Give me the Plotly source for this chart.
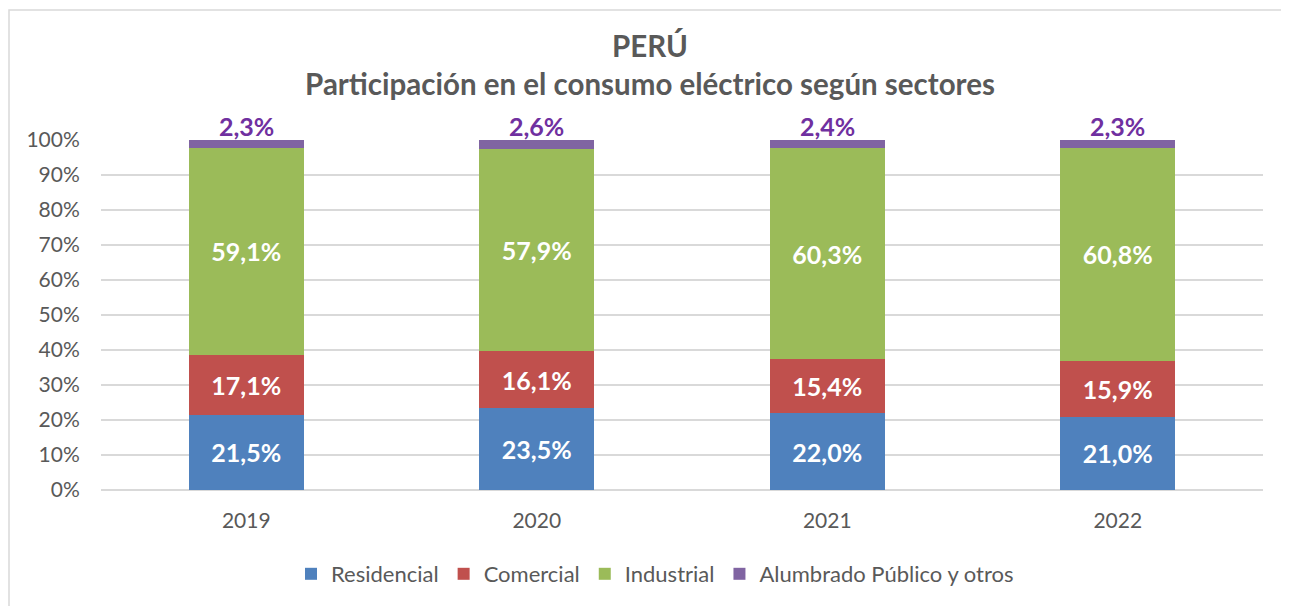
import plotly.graph_objects as go

years = ["2019", "2020", "2021", "2022"]
residencial = [21.5, 23.5, 22.0, 21.0]
comercial = [17.1, 16.1, 15.4, 15.9]
industrial = [59.1, 57.9, 60.3, 60.8]
alumbrado = [2.3, 2.6, 2.4, 2.3]

series = [
    ("Residencial", residencial, "#4F81BD"),
    ("Comercial", comercial, "#C0504D"),
    ("Industrial", industrial, "#9BBB59"),
    ("Alumbrado Público y otros", alumbrado, "#8064A2"),
]

def fmt(v):
    return f"{v:.1f}".replace(".", ",") + "%"

FONT = "Lato, Open Sans, sans-serif"
fig = go.Figure()
for name, vals, col in series:
    top = name.startswith("Alumbrado")
    fig.add_trace(go.Bar(
        x=years, y=vals, name=name, marker=dict(color=col, line=dict(width=0)),
        text=None if top else [fmt(v) for v in vals],
        textposition="inside",
        insidetextanchor="middle",
        textangle=0,
        constraintext="none",
        cliponaxis=False,
        textfont=dict(family=FONT, size=25, color="white", weight="bold"),
        hoverinfo="skip",
    ))

# purple labels above each stack (x given as category index)
totals = [r + c + i + a for r, c, i, a in zip(residencial, comercial, industrial, alumbrado)]
annotations = [
    dict(x=idx, y=min(t, 100), xref="x", yref="y", text=fmt(a), showarrow=False,
         yanchor="bottom", yshift=-3,
         font=dict(family=FONT, size=25, color="#7030A0", weight="bold"))
    for idx, (t, a) in enumerate(zip(totals, alumbrado))
]

# page has an 8px body margin; compensate
OFF = 8
W, H = 1289 - OFF, 606 - OFF
ml, mr, mt, mb = 101 - OFF, 26, 140 - OFF, 116
pw, ph = W - ml - mr, H - mt - mb

fig.update_layout(
    width=W, height=H, barmode="stack", bargap=0.604,
    margin=dict(l=ml, r=mr, t=mt, b=mb, autoexpand=False),
    paper_bgcolor="white", plot_bgcolor="white",
    font=dict(family=FONT, color="#595959", size=21),
    title=dict(text="PERÚ<br>Participación en el consumo eléctrico según sectores",
               x=(650 - OFF) / W, xanchor="center", y=1 - (57 - OFF) / H, yanchor="top",
               font=dict(family=FONT, size=29.5, color="#595959", weight="bold")),
    legend=dict(orientation="h", x=(655 - 101) / pw, xanchor="center",
                y=-63 / ph, yanchor="top",
                font=dict(family=FONT, size=22, color="#595959"), traceorder="normal",
                itemwidth=30),
    yaxis=dict(range=[0, 100], dtick=10, ticksuffix="%", showgrid=True,
               gridcolor="#D9D9D9", gridwidth=1.5, zeroline=True, zerolinecolor="#D9D9D9",
               zerolinewidth=1.5, ticks="outside", ticklen=16, tickcolor="rgba(0,0,0,0)",
               tickfont=dict(family=FONT, size=21, color="#595959"), fixedrange=True,
               automargin=False),
    xaxis=dict(type="category", range=[-0.5, len(years) - 0.5], showline=False,
               ticks="outside", ticklen=12, tickcolor="rgba(0,0,0,0)",
               tickfont=dict(family=FONT, size=21, color="#595959"), fixedrange=True,
               automargin=False),
    annotations=annotations,
    shapes=[dict(type="rect", xref="paper", yref="paper",
                 x0=(9 - 101) / pw, x1=(W + 20 - ml) / pw,
                 y0=-(mb + 20) / ph, y1=1 + (mt - 2) / ph,
                 line=dict(color="#D9D9D9", width=1.5), layer="below")],
)
fig.write_html("out.html")
